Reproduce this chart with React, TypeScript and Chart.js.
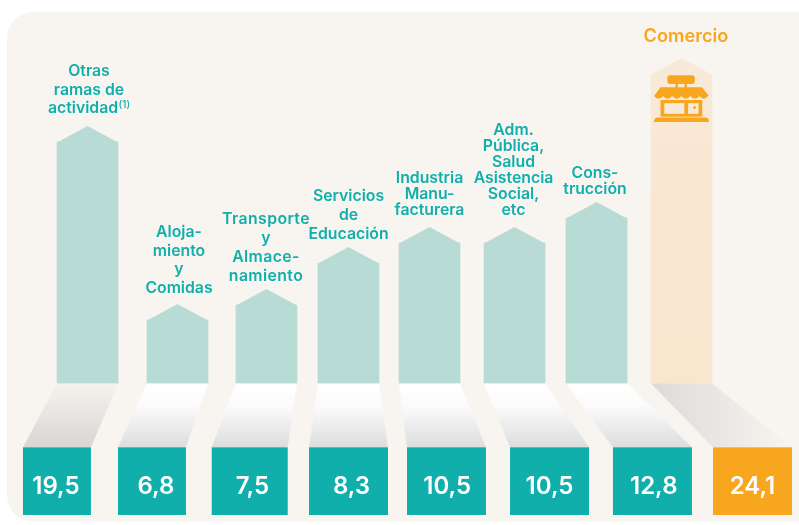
import React, { useEffect, useRef } from "react";
import { Chart, registerables } from "chart.js";

Chart.register(...registerables);

// ---- data ----
const categories = [
  ["Otras", "ramas de", "actividad"],
  ["Aloja-", "miento", "y", "Comidas"],
  ["Transporte", "y", "Almace-", "namiento"],
  ["Servicios", "de", "Educación"],
  ["Industria", "Manu-", "facturera"],
  ["Adm.", "Pública,", "Salud", "Asistencia", "Social,", "etc"],
  ["Cons-", "trucción"],
  ["Comercio"],
];
const shares = [19.5, 6.8, 7.5, 8.3, 10.5, 10.5, 12.8, 24.1];
const pictogramHeights = [17.89, 4.7, 5.81, 8.93, 10.41, 10.41, 12.26, 22.93];
const pictogramSlots = [0, 1.058, 2.105, 3.07, 4.023, 5.023, 5.988, 6.988];
const tileSlots = [-0.36, 0.758, 1.908, 3.07, 4.223, 5.435, 6.646, 7.823];

// ---- layout & style ----
const TEAL = "#11afab";
const ORANGE = "#f9a61f";
const PALE = "#b8dbd5";
const PANEL = "#f8f5f0";
const FONT = "Inter, sans-serif";
const CAP = 16;
const tileTop = 447.3;
const tileBottom = 515;
const tileWidths = [68, 68, 76, 79, 79, 79, 79, 79];
const valueCentreShift = [-1, 4, 2.7, 3, 0.7, 0, 1.3, 0];
const labelCentres = [89, 179, 266, 348.5, 429.5, 513.5, 595, 686];
const labelLastBaselines = [113, 293, 281, 239, 215, 215, 194, 42];
const labelLeading = [18.5, 18.7, 19, 19, 16, 16, 16, 0];
const labelTracking = [0, 0, 0.4, 0, 0, 0, 0, 0];

const decor = {
  id: "decor",
  beforeDraw(chart: any) {
    const { ctx, width, height } = chart;
    ctx.save();
    ctx.fillStyle = "#ffffff";
    ctx.fillRect(0, 0, width, height);
    ctx.fillStyle = PANEL;
    ctx.beginPath();
    ctx.roundRect(7, 12, 830, 509.5, 26);
    ctx.fill();
    ctx.restore();
  },
  afterDatasetsDraw(chart: any) {
    const { ctx, scales } = chart;
    const last = shares.length - 1;
    const bars = chart.getDatasetMeta(0).data;
    ctx.save();
    bars.forEach((bar: any, i: number) => {
      const half = bar.width / 2;
      const base = bar.base;
      const isLast = i === last;
      // pointed cap
      ctx.fillStyle = isLast ? "#f8ead9" : PALE;
      ctx.beginPath();
      ctx.moveTo(bar.x - half, bar.y + 0.5);
      ctx.lineTo(bar.x, bar.y - CAP);
      ctx.lineTo(bar.x + half, bar.y + 0.5);
      ctx.closePath();
      ctx.fill();

      // perspective link to the tile
      const tc = scales.x.getPixelForValue(tileSlots[i]);
      const tw = tileWidths[i];
      let grad;
      if (i === 0) {
        grad = ctx.createLinearGradient(0, base, 0, tileTop);
        grad.addColorStop(0, "#f5f3ee");
        grad.addColorStop(1, "#d8d6d3");
      } else if (isLast) {
        grad = ctx.createLinearGradient(bar.x - half, 0, tc + tw / 2, 0);
        grad.addColorStop(0, "#dcdbd7");
        grad.addColorStop(1, "#f7f5f0");
      } else {
        grad = ctx.createLinearGradient(0, base, 0, tileTop);
        grad.addColorStop(0, "#ffffff");
        grad.addColorStop(0.35, "#fbfbfb");
        grad.addColorStop(1, "#dcdddd");
      }
      ctx.fillStyle = grad;
      ctx.beginPath();
      ctx.moveTo(bar.x - half, base);
      ctx.lineTo(bar.x + half, base);
      ctx.lineTo(tc + tw / 2, tileTop);
      ctx.lineTo(tc - tw / 2, tileTop);
      ctx.closePath();
      ctx.fill();

      // tile and value
      ctx.fillStyle = isLast ? ORANGE : TEAL;
      ctx.fillRect(tc - tw / 2, tileTop, tw, tileBottom - tileTop);
      ctx.fillStyle = "#ffffff";
      ctx.font = `600 24px ${FONT}`;
      ctx.textAlign = "center";
      ctx.textBaseline = "alphabetic";
      ctx.letterSpacing = "0px";
      ctx.fillText(shares[i].toFixed(1).replace(".", ","), tc + valueCentreShift[i], 494);

      // category label
      const lines = categories[i];
      ctx.fillStyle = isLast ? ORANGE : TEAL;
      ctx.font = isLast ? `600 18.2px ${FONT}` : `600 15.8px ${FONT}`;
      ctx.letterSpacing = `${labelTracking[i]}px`;
      lines.forEach((line, k) => {
        const y = labelLastBaselines[i] - (lines.length - 1 - k) * labelLeading[i];
        const x = labelCentres[i] - (i === 0 && k === 2 ? 6 : 0);
        ctx.fillText(line, x, y);
      });
      ctx.letterSpacing = "0px";
      if (i === 0) {
        const w = ctx.measureText(lines[2]).width;
        ctx.font = `500 10px ${FONT}`;
        ctx.textAlign = "left";
        ctx.fillText("(1)", labelCentres[i] - 6 + w / 2 + 0.5, 108);
      }
    });

    // shop pictogram
    const p = bars[last];
    const ox = p.x;
    ctx.fillStyle = ORANGE;
    ctx.beginPath();
    ctx.roundRect(ox - 14.2, 75.3, 27.5, 8.7, 3);
    ctx.fill();
    ctx.fillRect(ox - 6, 84, 2.4, 4);
    ctx.fillRect(ox + 3, 84, 2.4, 4);
    // awning
    ctx.beginPath();
    ctx.moveTo(ox - 21, 87.3);
    ctx.lineTo(ox + 20.5, 87.3);
    ctx.lineTo(ox + 27, 95.5);
    for (let k = 0; k < 6; k++) {
      const x1 = ox + 27 - (k * 54.5) / 6;
      const x2 = ox + 27 - ((k + 1) * 54.5) / 6;
      ctx.quadraticCurveTo((x1 + x2) / 2, 101.5, x2, 96);
    }
    ctx.closePath();
    ctx.fill();
    // body
    ctx.fillRect(ox - 21, 100, 41.7, 16.7);
    ctx.fillStyle = "#f8ead9";
    ctx.fillRect(ox - 17.2, 103.2, 20, 10.6);
    ctx.fillRect(ox + 6.6, 103.2, 10.4, 10.6);
    ctx.fillStyle = ORANGE;
    ctx.beginPath();
    ctx.arc(ox + 13, 107.5, 1.5, 0, Math.PI * 2);
    ctx.fill();
    // base
    ctx.beginPath();
    ctx.roundRect(ox - 27.5, 117.4, 55, 4.7, [4, 4, 0, 0]);
    ctx.fill();
    ctx.restore();
  },
};

export default function App() {
  const ref = useRef<HTMLCanvasElement>(null);
  useEffect(() => {
    document.body.style.margin = "0";
    const canvas = ref.current!;
    const ctx = canvas.getContext("2d")!;
    const fade = ctx.createLinearGradient(0, 74, 0, 384);
    fade.addColorStop(0, "#f8ead9");
    fade.addColorStop(0.3, "#f8e7d2");
    fade.addColorStop(1, "#f8e6cf");
    const chart = new Chart(canvas, {
      type: "bar",
      data: {
        datasets: [
          {
            label: "Pictograma",
            data: pictogramSlots.map((x, i) => ({ x, y: pictogramHeights[i] })),
            backgroundColor: pictogramSlots.map((_, i) => (i === pictogramSlots.length - 1 ? fade : PALE)),
            borderWidth: 0,
            barThickness: 61,
          },
        ],
      },
      options: {
        animation: false,
        responsive: false,
        layout: { padding: 0 },
        plugins: { legend: { display: false }, tooltip: { enabled: false } },
        scales: {
          x: { type: "linear", min: -1.03, max: 8.37, display: false, offset: false },
          y: { type: "linear", min: -10.48, max: 28.41, display: false },
        },
      },
      plugins: [decor],
    });
    return () => chart.destroy();
  }, []);
  return <canvas ref={ref} width={799} height={525} style={{ display: "block" }} />;
}
